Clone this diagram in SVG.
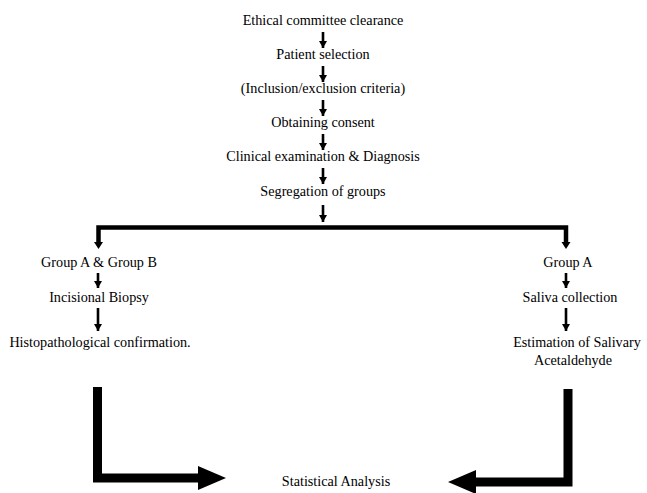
<svg xmlns="http://www.w3.org/2000/svg" width="647" height="493" viewBox="0 0 647 493">
<style>
  .t text { fill: #000; text-anchor: middle; }
  .sm { stroke: #000; stroke-width: 2.6; fill: none; }
  .bar { stroke: #000; stroke-width: 4.5; fill: none; stroke-linejoin: miter; }
  .big { stroke: #000; stroke-width: 9; fill: none; stroke-linejoin: miter; }
  .head { fill: #000; stroke: none; }
</style>
<defs>
  <marker id="ah" markerUnits="userSpaceOnUse" markerWidth="9" markerHeight="8" refX="7" refY="4" orient="auto">
    <path d="M0,0 L7,4 L0,8 Z" fill="#000"/>
  </marker>
</defs>
<rect width="647" height="493" fill="#fff"/>

<g id="connectors">
  <line class="sm" x1="323" y1="32" x2="323" y2="48" marker-end="url(#ah)"/>
  <line class="sm" x1="323" y1="66" x2="323" y2="82" marker-end="url(#ah)"/>
  <line class="sm" x1="323" y1="100" x2="323" y2="116" marker-end="url(#ah)"/>
  <line class="sm" x1="323" y1="134" x2="323" y2="150" marker-end="url(#ah)"/>
  <line class="sm" x1="323" y1="168" x2="323" y2="184" marker-end="url(#ah)"/>
  <line class="sm" x1="323" y1="205" x2="323" y2="222" marker-end="url(#ah)"/>
  <path class="bar" d="M98.5,244 V227.5 H566 V244"/>
  <path class="head" d="M94,242 L103,242 L98.5,249 Z"/>
  <path class="head" d="M561.5,242 L570.5,242 L566,249 Z"/>
  <line class="sm" x1="98" y1="273" x2="98" y2="288" marker-end="url(#ah)"/>
  <line class="sm" x1="98" y1="308" x2="98" y2="331" marker-end="url(#ah)"/>
  <line class="sm" x1="566" y1="273" x2="566" y2="288" marker-end="url(#ah)"/>
  <line class="sm" x1="566" y1="308" x2="566" y2="331" marker-end="url(#ah)"/>
  <path class="big" d="M97.5,387 V478 H200"/>
  <path class="head" d="M198,466 L226,478 L198,490 Z"/>
  <path class="big" d="M568,389 V482 H474"/>
  <path class="head" d="M476,470 L448,482 L476,494 Z"/>
</g>

<g class="t" font-family="Liberation Serif, Times New Roman, serif" font-size="14.2">
<g id="n1"><text x="323" y="25">Ethical committee clearance</text></g>
<g id="n2"><text x="323" y="59">Patient selection</text></g>
<g id="n3"><text x="323" y="93">(Inclusion/exclusion criteria)</text></g>
<g id="n4"><text x="323" y="127">Obtaining consent</text></g>
<g id="n5"><text x="323" y="161">Clinical examination &amp; Diagnosis</text></g>
<g id="n6"><text x="323" y="196">Segregation of groups</text></g>
<g id="n7"><text x="99" y="267">Group A &amp; Group B</text></g>
<g id="n8"><text x="99" y="302">Incisional Biopsy</text></g>
<g id="n9"><text x="100" y="347">Histopathological confirmation.</text></g>
<g id="n10"><text x="568" y="267">Group A</text></g>
<g id="n11"><text x="570" y="302">Saliva collection</text></g>
<g id="n12"><text x="577" y="347">Estimation of Salivary</text><text x="573" y="365">Acetaldehyde</text></g>
<g id="n13"><text x="336" y="486">Statistical Analysis</text></g>
</g>
</svg>
